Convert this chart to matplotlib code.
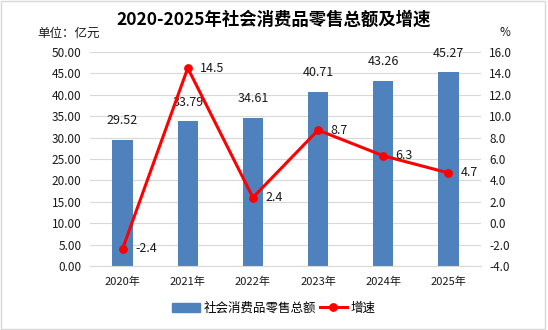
import matplotlib
matplotlib.use("Agg")
import matplotlib.pyplot as plt
from matplotlib.patches import Rectangle
from matplotlib.lines import Line2D

plt.rcParams['font.family'] = ['Noto Sans CJK SC', 'DejaVu Sans']

years = ["2020年", "2021年", "2022年", "2023年", "2024年", "2025年"]
sales = [29.52, 33.79, 34.61, 40.71, 43.26, 45.27]
growth = [-2.4, 14.5, 2.4, 8.7, 6.3, 4.7]
left_ticks = [0, 5, 10, 15, 20, 25, 30, 35, 40, 45, 50]
right_ticks = [-4, -2, 0, 2, 4, 6, 8, 10, 12, 14, 16]

bar_color = "#4F81BD"
line_color = "#FF0000"
text_color = "#1a1a1a"

fig = plt.figure(figsize=(5.48, 3.3), dpi=100)
ax = fig.add_axes([90/548, 1-266/330, (481-90)/548, (266-52)/330])
ax2 = ax.twinx()

x = list(range(len(years)))
ax.bar(x, sales, width=0.31, color=bar_color, zorder=2)
ax.set_xlim(-0.5, len(years)-0.5)
ax.set_ylim(0, 50)
ax.set_yticks(left_ticks)
ax.set_yticklabels([f"{v:.2f}" for v in left_ticks], fontsize=8.5, color=text_color)
ax.set_xticks(x)
ax.set_xticklabels(years, fontsize=8, color=text_color)
ax.grid(axis='y', color="#D9D9D9", linewidth=0.8, zorder=0)
ax.set_axisbelow(True)
for s in ["top", "left", "right"]:
    ax.spines[s].set_visible(False)
ax.spines["bottom"].set_color("#D9D9D9")
ax.tick_params(axis='y', length=0, pad=6)
ax.tick_params(axis='x', length=0, pad=8)

for xi, v in zip(x, sales):
    ax.annotate(f"{v:.2f}", (xi, v), xytext=(0, 9), textcoords="offset points",
                ha="center", va="bottom", fontsize=9, color=text_color)

ax2.plot(x, growth, color=line_color, linewidth=2.2, marker="o", markersize=5.3, zorder=3)
ax2.set_ylim(-4, 16)
ax2.set_yticks(right_ticks)
ax2.set_yticklabels([f"{v:.1f}" for v in right_ticks], fontsize=8.5, color=text_color)
for s in ["top", "left", "right", "bottom"]:
    ax2.spines[s].set_visible(False)
ax2.tick_params(axis='y', length=0, pad=6)
for xi, v in zip(x, growth):
    ax2.annotate(f"{v:.1f}", (xi, v), xytext=(9, 0), textcoords="offset points",
                 ha="left", va="center", fontsize=9, color=text_color)

fig.text(0.5, 1-20/330, "2020-2025年社会消费品零售总额及增速", ha="center", va="center",
         fontsize=12.5, fontweight="bold", color="black")
fig.text(37/548, 1-33/330, "单位：亿元", ha="left", va="center", fontsize=9, color=text_color)
fig.text(505/548, 1-33/330, "%", ha="center", va="center", fontsize=8.5, color=text_color)

handles = [Rectangle((0, 0), 1, 1, color=bar_color),
           Line2D([0], [0], color=line_color, linewidth=2.2, marker="o", markersize=5.3)]
fig.legend(handles, ["社会消费品零售总额", "增速"], loc="center", bbox_to_anchor=(0.5, 1-308/330),
           ncol=2, frameon=False, fontsize=9, handlelength=2.2, columnspacing=0.3, handletextpad=0.3)

fig.add_artist(Rectangle((0.002, 0.004), 0.993, 0.992, transform=fig.transFigure,
                         fill=False, edgecolor="#D9D9D9", linewidth=1))

fig.savefig("out.png", dpi=100)
